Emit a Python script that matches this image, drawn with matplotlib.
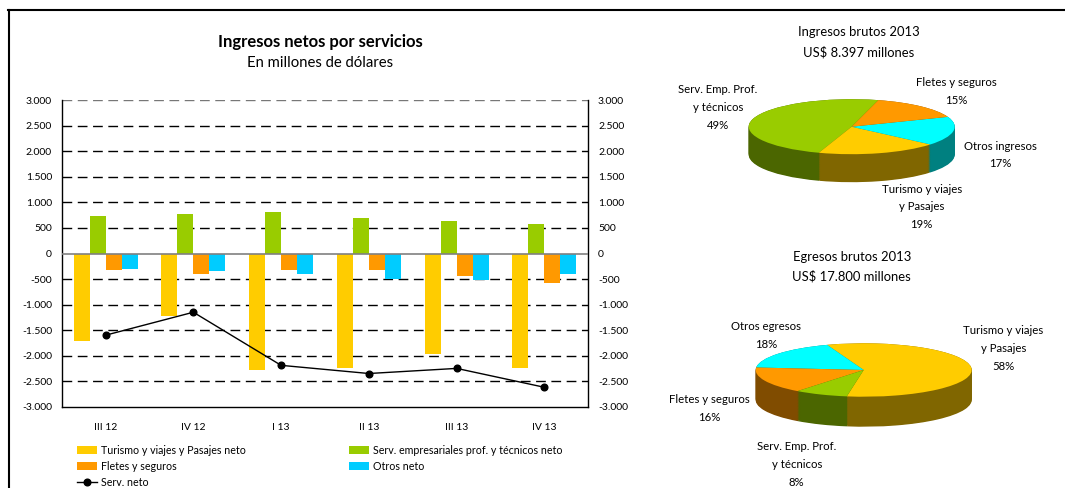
import matplotlib
matplotlib.use('Agg')
import matplotlib.pyplot as plt
import numpy as np
from matplotlib.patches import Patch
from matplotlib.lines import Line2D
from matplotlib.ticker import FuncFormatter, MultipleLocator

plt.rcParams['font.family'] = ['Lato', 'DejaVu Sans']

# ---------------- data ----------------
quarters = ['III 12', 'IV 12', 'I 13', 'II 13', 'III 13', 'IV 13']
turismo = [-1720, -1220, -2290, -2250, -1960, -2250]
serv_emp = [740, 780, 820, 700, 640, 580]
fletes = [-330, -410, -330, -330, -450, -570]
otros = [-310, -350, -410, -490, -510, -410]
serv_neto = [-1600, -1150, -2190, -2350, -2250, -2620]

ing_labels = ['Serv. Emp. Prof.\ny técnicos\n49%', 'Turismo y viajes\ny Pasajes\n19%',
              'Otros ingresos\n17%', 'Fletes y seguros\n15%']
ing_values = [49, 19, 17, 15]
egr_labels = ['Turismo y viajes\ny Pasajes\n58%', 'Otros egresos\n18%',
              'Fletes y seguros\n16%', 'Serv. Emp. Prof.\ny técnicos\n8%']
egr_values = [58, 18, 16, 8]

# ---------------- styles ----------------
C_YEL, C_GRN, C_ORG, C_CYB = '#FFCC00', '#99CC00', '#FF9900', '#00CCFF'
C_CYP = '#00FFFF'
SIDE = {'#99CC00': '#4B6600', '#FFCC00': '#806600', '#00FFFF': '#008080', '#FF9900': '#804C00'}

W, H = 1065, 488
fig = plt.figure(figsize=(W / 100, H / 100), dpi=100)


def fx(x):
    return x / W


def fy(y):
    return 1 - y / H


# outer border
fig.add_artist(Line2D([fx(8), 1.0], [fy(10), fy(10)], color='black', lw=1.5))
fig.add_artist(Line2D([fx(8.5), fx(8.5)], [fy(10), 0.0], color='black', lw=1.5))

# ---------------- bar chart ----------------
L, R, T, B = 61.7, 588.3, 100.3, 406.7
ax = fig.add_axes([fx(L), fy(B), (R - L) / W, (B - T) / H])
x = np.arange(len(quarters))
w = 0.182
series = [(turismo, C_YEL), (serv_emp, C_GRN), (fletes, C_ORG), (otros, C_CYB)]
for i, (vals, col) in enumerate(series):
    ax.bar(x + (i - 1.5) * w, vals, width=w, color=col, zorder=3, linewidth=0)
ax.plot(x, serv_neto, color='black', lw=1, marker='o', ms=4.8, zorder=4)

ax.set_xlim(-0.5, len(quarters) - 0.5)
ax.set_ylim(-3000, 3000)
ax.yaxis.set_major_locator(MultipleLocator(500))
ax.yaxis.set_major_formatter(FuncFormatter(lambda v, p: f"{int(round(v)):,}".replace(',', '.')))
ax.set_xticks(x)
ax.set_xticklabels(quarters)
ax.tick_params(axis='x', length=0, pad=12, labelsize=7.5)
ax.tick_params(axis='y', length=0, pad=7, labelsize=7.5, labelleft=True, labelright=True)
for t in np.arange(-2500, 3001, 500):
    if t == 0:
        continue
    ax.axhline(t, color='black' if t != 3000 else '#777777', lw=1, ls=(0, (7, 4)), zorder=1)
ax.axhline(0, color='#808080', lw=1.2, zorder=5)
ax.spines['top'].set_visible(False)
for s in ['left', 'right', 'bottom']:
    ax.spines[s].set_color('black')
    ax.spines[s].set_linewidth(1)

fig.text(fx(320.7), fy(41.7), 'Ingresos netos por servicios', ha='center', va='center',
         fontsize=12, fontweight='bold')
fig.text(fx(319.7), fy(63.3), 'En millones de dólares', ha='center', va='center', fontsize=10.7)

# legend
h_tur = Patch(facecolor=C_YEL, edgecolor='none', label='Turismo y viajes y Pasajes neto')
h_fle = Patch(facecolor=C_ORG, edgecolor='none', label='Fletes y seguros')
h_net = Line2D([], [], color='black', lw=1, marker='o', ms=4.8, label='Serv. neto')
h_emp = Patch(facecolor=C_GRN, edgecolor='none', label='Serv. empresariales prof. y técnicos neto')
h_otr = Patch(facecolor=C_CYB, edgecolor='none', label='Otros neto')
leg_kw = dict(frameon=False, fontsize=7.7, handlelength=1.9, handleheight=0.75,
              handletextpad=0.3, labelspacing=0.5, borderpad=0, borderaxespad=0, loc='upper left')
fig.legend(handles=[h_tur, h_fle, h_net], bbox_to_anchor=(fx(77), fy(444.5)), **leg_kw)
fig.legend(handles=[h_emp, h_otr], bbox_to_anchor=(fx(349), fy(444.5)), **leg_kw)


# ---------------- 3D pies ----------------
def pie3d(values, colors, start, cx, cy, a, b, depth):
    xl = (-1.25, 1.25)
    yl = (-1.0 - depth / b - 0.3, 1.3)
    left = cx + xl[0] * a
    width = (xl[1] - xl[0]) * a
    top = cy - yl[1] * b
    height = (yl[1] - yl[0]) * b
    pax = fig.add_axes([fx(left), fy(top + height), width / W, height / H])
    d = depth / b
    n = 40
    for k in range(n + 1):
        off = -d + d * k / n
        pax.pie(values, colors=[SIDE[c] for c in colors], startangle=start, counterclock=True,
                center=(0, off), wedgeprops=dict(linewidth=0, antialiased=True), frame=False)
    pax.pie(values, colors=colors, startangle=start, counterclock=True, center=(0, 0),
            wedgeprops=dict(linewidth=0), frame=False)
    pax.set_aspect('auto')
    pax.set_xlim(*xl)
    pax.set_ylim(*yl)
    pax.axis('off')
    return pax


pie3d(ing_values, [C_GRN, C_YEL, C_CYP, C_ORG], 75, 851.7, 126.7, 103, 27.5, 28)
pie3d(egr_values, [C_YEL, C_CYP, C_ORG, C_GRN], -99, 863.7, 370, 108, 26.7, 30)

ptxt = dict(ha='center', va='center', fontsize=8.2, linespacing=1.75)
fig.text(fx(859), fy(31.7), 'Ingresos brutos 2013', ha='center', va='center', fontsize=9.4)
fig.text(fx(859), fy(52.7), 'US$ 8.397 millones', ha='center', va='center', fontsize=9.4)
ing_pos = [(718, 107.7), (921.7, 207), (1000.7, 155), (956.7, 91.7)]
for lab, (px, py) in zip(ing_labels, ing_pos):
    fig.text(fx(px), fy(py), lab, **ptxt)

fig.text(fx(851.7), fy(256.7), 'Egresos brutos 2013', ha='center', va='center', fontsize=9.4)
fig.text(fx(851.7), fy(276.7), 'US$ 17.800 millones', ha='center', va='center', fontsize=9.4)
egr_pos = [(1003.3, 348.3), (766, 335.5), (709, 408.3), (796.7, 464.3)]
for lab, (px, py) in zip(egr_labels, egr_pos):
    fig.text(fx(px), fy(py), lab, **ptxt)

fig.savefig('out.png', dpi=100)
